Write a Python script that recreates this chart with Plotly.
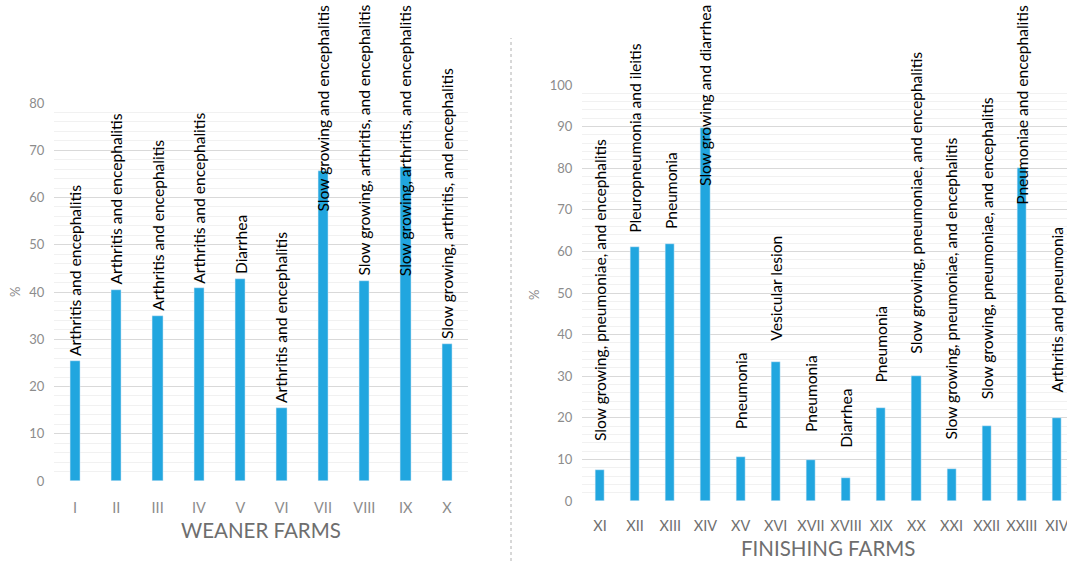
import plotly.graph_objects as go

# ---------------- data ----------------
weaner_farms = ["I", "II", "III", "IV", "V", "VI", "VII", "VIII", "IX", "X"]
weaner_values = [25.5, 40.5, 35.0, 40.8, 42.7, 15.5, 65.6, 42.4, 66.5, 28.9]
weaner_labels = [
    "Arthritis and encephalitis",
    "Arthritis and encephalitis",
    "Arthritis and encephalitis",
    "Arthritis and encephalitis",
    "Diarrhea",
    "Arthritis and encephalitis",
    "Slow growing and encephalitis",
    "Slow growing, arthritis, and encephalitis",
    "Slow growing, arthritis, and encephalitis",
    "Slow growing, arthritis, and encephalitis",
]

finishing_farms = ["XI", "XII", "XIII", "XIV", "XV", "XVI", "XVII", "XVIII",
                   "XIX", "XX", "XXI", "XXII", "XXIII", "XIV"]
finishing_values = [7.45, 61.0, 61.9, 89.7, 10.5, 33.3, 9.9, 5.6, 22.4, 30.0,
                    7.7, 18.1, 80.0, 19.9]
finishing_labels = [
    "Slow growing, pneumoniae, and encephalitis",
    "Pleuropneumonia and ileitis",
    "Pneumonia",
    "Slow growing and diarrhea",
    "Pneumonia",
    "Vesicular lesion",
    "Pneumonia",
    "Diarrhea",
    "Pneumonia",
    "Slow growing, pneumoniae, and encephalitis",
    "Slow growing, pneumoniae, and encephalitis",
    "Slow growing, pneumoniae, and encephalitis",
    "Pneumoniae and encephalitis",
    "Arthritis and pneumonia",
]

# ---------------- style ----------------
W, H = 1067, 561
BAR = "#21A6DF"
GRID = "#d9d9d9"
MINOR = "#f1f1f1"
TICK = "#8c8c8c"
TICK_R = "#6f6f6f"
TITLE = "#6e6e6e"
AXFONT = "Lato"
LABFONT = "Lato"
LABSIZE = 15.6

L_XDOM = [54.3 / W, 467.7 / W]
L_YDOM = [(H - 481) / H, (H - 103) / H]
L_YMAX = 80
R_XDOM = [582.4 / W, 1.0]
R_YDOM = [(H - 501) / H, (H - 85) / H]
R_YMAX = 100
R_XRANGE_END = 13 + (W - 1057) / 35.15

fig = go.Figure()

xl = list(range(len(weaner_farms)))
xr = list(range(len(finishing_farms)))

fig.add_trace(go.Bar(x=xl, y=weaner_values, marker_color=BAR, width=0.25,
                     xaxis="x", yaxis="y", showlegend=False, hoverinfo="skip"))
fig.add_trace(go.Bar(x=xr, y=finishing_values, marker_color=BAR, width=0.26,
                     xaxis="x2", yaxis="y2", showlegend=False, hoverinfo="skip"))

common_y = dict(showgrid=True, gridcolor=GRID, gridwidth=1, zeroline=False,
                showline=False, ticks="", tickfont=dict(family=AXFONT, size=13, color=TICK),
                ticklabelstandoff=9, automargin=False,
                minor=dict(dtick=2, showgrid=True, gridcolor=MINOR, gridwidth=1))
common_x = dict(showgrid=False, zeroline=False, showline=False, ticks="",
                automargin=False, ticklabeloverflow="allow")

fig.update_layout(
    width=W, height=H,
    autosize=False,
    margin=dict(l=0, r=0, t=0, b=0, pad=0),
    paper_bgcolor="white", plot_bgcolor="white",
    bargap=0,
    xaxis=dict(domain=L_XDOM, range=[-0.5, len(xl) - 0.5], tickvals=xl,
               ticktext=weaner_farms, anchor="y", ticklabelstandoff=16,
               tickfont=dict(family=AXFONT, size=14.5, color=TICK), **common_x),
    yaxis=dict(domain=L_YDOM, range=[0, L_YMAX], dtick=10, anchor="x", **common_y),
    xaxis2=dict(domain=R_XDOM, range=[-0.5, R_XRANGE_END], tickvals=xr,
                ticktext=finishing_farms, anchor="y2", ticklabelstandoff=14,
                tickfont=dict(family=AXFONT, size=14.5, color=TICK_R), **common_x),
    yaxis2=dict(domain=R_YDOM, range=[0, R_YMAX], dtick=10, anchor="x2", **common_y),
)

# ---------------- data labels (rotated, Excel-like placement) ----------------
TOP_LIMIT = 4  # px from top of page


def add_labels(xs, values, labels, xref, ydom, ymax, gap_fn, char_px):
    ppu = (ydom[1] - ydom[0]) * H / ymax
    base_px = H * (1 - ydom[0])
    for x, v, t in zip(xs, values, labels):
        bar_top = base_px - v * ppu
        bottom = bar_top - gap_fn(v)
        est_len = len(t) * char_px
        if bottom - est_len < TOP_LIMIT:
            y, anchor = 1 - TOP_LIMIT / H, "top"
        else:
            y, anchor = 1 - bottom / H, "bottom"
        fig.add_annotation(x=x, y=y, xref=xref, yref="paper", text=t,
                           textangle=-90, showarrow=False, xanchor="center",
                           yanchor=anchor, borderpad=0,
                           font=dict(family=LABFONT, size=LABSIZE, color="black"))


add_labels(xl, weaner_values, weaner_labels, "x", L_YDOM, L_YMAX,
           lambda v: 4, 6.6)
add_labels(xr, finishing_values, finishing_labels, "x2", R_YDOM, R_YMAX,
           lambda v: 30 - 0.27 * v, 7.2)


# axis titles
def paper_text(x, y, text, size, color, angle=0):
    fig.add_annotation(x=x / W, y=1 - y / H, xref="paper", yref="paper", text=text,
                       textangle=angle, showarrow=False, xanchor="center",
                       yanchor="middle", borderpad=0,
                       font=dict(family=AXFONT, size=size, color=color))


paper_text(15, 292, "%", 13, TICK, -90)
paper_text(534, 295, "%", 13, TICK, -90)
paper_text(261, 530, "WEANER FARMS", 20.5, TITLE)
paper_text(828, 548, "FINISHING FARMS", 20.5, TITLE)

# dotted separator
fig.add_shape(type="line", xref="paper", yref="paper", x0=511 / W, x1=511 / W,
              y0=0, y1=1 - 38 / H, line=dict(color="#b0b0b0", width=1, dash="dot"))

fig.write_html("out.html")
